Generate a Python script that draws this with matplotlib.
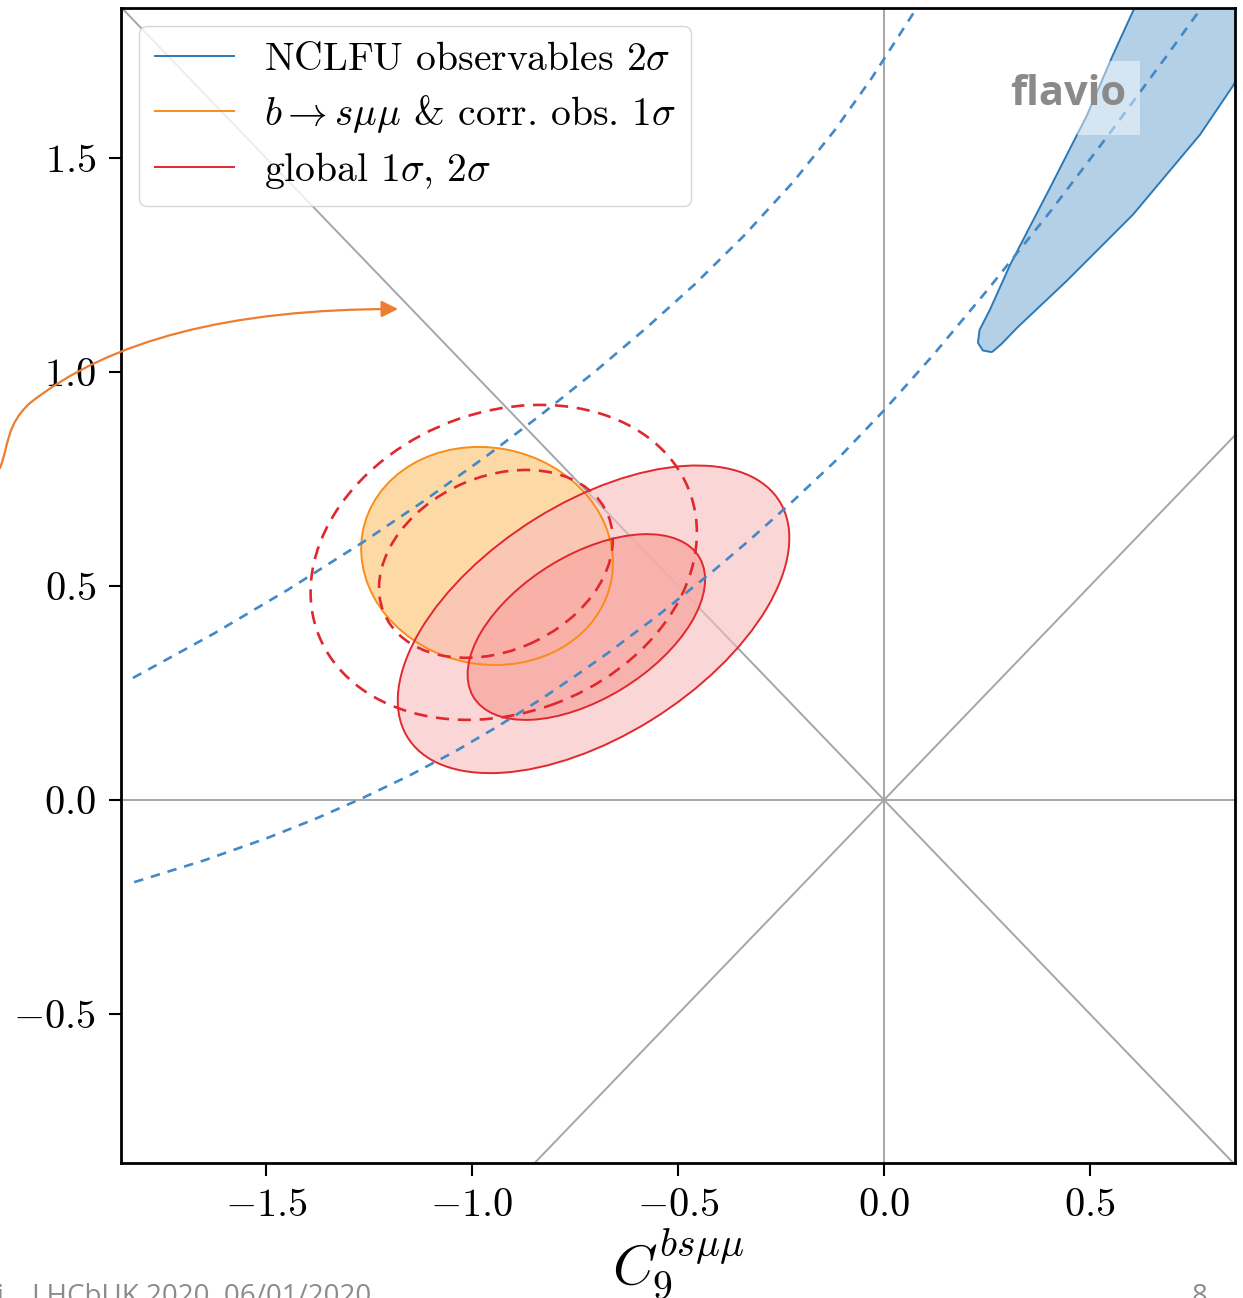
"""
C9 vs C10 (bs mu mu) fit contours, flavio style
"""
import numpy as np
import matplotlib
matplotlib.use('Agg')
import matplotlib.pyplot as plt
from matplotlib.patches import Ellipse, Polygon, Rectangle, FancyArrowPatch
from matplotlib.path import Path
from matplotlib.lines import Line2D

plt.rcParams['font.family'] = 'serif'
plt.rcParams['font.serif'] = ['cmr10']
plt.rcParams['mathtext.fontset'] = 'cm'
plt.rcParams['axes.formatter.use_mathtext'] = True

# ---- data ----
XLIM = (-1.852, 0.852)
YLIM = (-0.848, 1.85)
xticks = [-1.5, -1.0, -0.5, 0.0, 0.5]
yticks = [-0.5, 0.0, 0.5, 1.0, 1.5]

# NCLFU 2 sigma filled region (top right)
nclfu_x = [0.262, 0.240, 0.228, 0.232, 0.257, 0.306, 0.403, 0.493, 0.556, 0.646,
           0.913, 0.913, 0.847, 0.767, 0.604, 0.444, 0.323, 0.285]
nclfu_y = [1.046, 1.050, 1.068, 1.098, 1.145, 1.250, 1.430, 1.600, 1.741, 1.930,
           1.930, 1.776, 1.668, 1.554, 1.367, 1.213, 1.103, 1.065]

# NCLFU dashed band edges
dash_up_x = [-1.823, -1.626, -1.447, -1.265, -1.119, -0.964, -0.835, -0.70, -0.58,
             -0.46, -0.34, -0.22, -0.12, -0.03, 0.07, 0.085]
dash_up_y = [0.285, 0.389, 0.491, 0.602, 0.697, 0.804, 0.898, 1.002, 1.100,
             1.204, 1.318, 1.444, 1.564, 1.686, 1.836, 1.860]
dash_lo_x = [-1.82, -1.65, -1.50, -1.38, -1.269, -1.15, -1.04, -0.939, -0.83, -0.74,
             -0.672, -0.55, -0.422, -0.33, -0.228, -0.11, 0.0, 0.12, 0.25, 0.40,
             0.55, 0.68, 0.774]
dash_lo_y = [-0.192, -0.141, -0.090, -0.044, 0.003, 0.058, 0.114, 0.171, 0.237, 0.296,
             0.342, 0.430, 0.529, 0.604, 0.692, 0.799, 0.910, 1.040, 1.190, 1.370,
             1.560, 1.730, 1.855]

# ellipses: (centre x, centre y, width, height, angle in deg)
bsmm_1s = (-0.9635, 0.570, 0.614, 0.506, -9.8)
glob_1s = (-0.7225, 0.404, 0.638, 0.337, 30.3)
glob_2s = (-0.705, 0.422, 1.058, 0.548, 30.9)
glob_dash_in = (-0.942, 0.5515, 0.590, 0.408, 22.3)
glob_dash_out = (-0.923, 0.555, 0.961, 0.705, 18.8)

legend_labels = ['NCLFU observables $2\\sigma$',
                 '$b\\to s\\mu\\mu$ & corr. obs. $1\\sigma$',
                 'global $1\\sigma$, $2\\sigma$']

BLUE = '#2a7ab9'
BLUE_D = '#4189c7'
ORANGE = '#fb8c1a'
RED = '#e0282e'
GREY = '#a6a6a6'

W, H = 1243, 1298
fig = plt.figure(figsize=(W / 100, H / 100), dpi=100)
ax = fig.add_axes([121 / W, 1 - 1163 / H, 1114 / W, 1155 / H])

# reference lines
ax.axhline(0, color=GREY, lw=1.4, zorder=1)
ax.axvline(0, color=GREY, lw=1.4, zorder=1)
ax.axline((0, 0), slope=1, color=GREY, lw=1.4, zorder=1)
ax.axline((0, 0), slope=-1, color=GREY, lw=1.4, zorder=1)

# NCLFU region
ax.add_patch(Polygon(np.column_stack([nclfu_x, nclfu_y]), closed=True,
                     facecolor=BLUE, alpha=0.35, edgecolor='none', zorder=2))
ax.add_patch(Polygon(np.column_stack([nclfu_x, nclfu_y]), closed=True,
                     facecolor='none', edgecolor=BLUE, lw=1.4, zorder=2))


def ell(p, **kw):
    return Ellipse((p[0], p[1]), p[2], p[3], angle=p[4], **kw)


# fills: orange below, global on top
ax.add_patch(ell(bsmm_1s, facecolor='#fdd9a6', edgecolor='none', zorder=3))
ax.add_patch(ell(glob_2s, facecolor='#f7bcbc', alpha=0.6, edgecolor='none', zorder=3))
ax.add_patch(ell(glob_1s, facecolor='#f8aca6', alpha=0.85, edgecolor='none', zorder=3))
# edges
ax.add_patch(ell(bsmm_1s, facecolor='none', edgecolor=ORANGE, lw=1.4, zorder=4))
ax.add_patch(ell(glob_2s, facecolor='none', edgecolor=RED, lw=1.4, zorder=4))
ax.add_patch(ell(glob_1s, facecolor='none', edgecolor=RED, lw=1.4, zorder=4))
# dashed global contours
for p in (glob_dash_in, glob_dash_out):
    e = ell(p, facecolor='none', edgecolor=RED, lw=1.9, zorder=5)
    e.set_linestyle((0, (5, 3.3)))
    ax.add_patch(e)

ax.plot(dash_up_x, dash_up_y, color=BLUE_D, lw=1.9, dashes=(3.6, 3.0), zorder=6)
ax.plot(dash_lo_x, dash_lo_y, color=BLUE_D, lw=1.9, dashes=(3.6, 3.0), zorder=6)

# flavio watermark
ax.add_patch(Rectangle((0.858, 0.890), 0.0566, 0.064, transform=ax.transAxes,
                       facecolor='white', alpha=0.45, edgecolor='none', zorder=7))
ax.text(0.850, 0.925, 'flavio', transform=ax.transAxes, ha='center', va='center',
        family='Open Sans', weight='bold', fontsize=30, color='#8a8a8a', zorder=8)

ax.set_xlim(*XLIM)
ax.set_ylim(*YLIM)
ax.set_xticks(xticks)
ax.set_yticks(yticks)
ax.tick_params(labelsize=29, length=9, width=1.5, pad=9, direction='out')
for s in ax.spines.values():
    s.set_linewidth(2.0)
ax.set_xlabel('$C_9^{bs\\mu\\mu}$', fontsize=41, labelpad=2)

handles = [Line2D([], [], color=c, lw=1.4) for c in (BLUE, ORANGE, RED)]
ax.legend(handles, legend_labels, loc='upper left', fontsize=28.5,
          borderaxespad=0.45, framealpha=0.8, edgecolor='#cccccc',
          handlelength=2.0, handletextpad=0.75, labelspacing=0.38, borderpad=0.4)

# orange slide arrow (smooth curve, pixel positions)
arrow_px = [(0, 468), (9, 445), (6, 425), (30, 403),
            (110, 340), (230, 309), (398, 309)]
verts = [(x / W, 1 - y / H) for x, y in arrow_px]
codes = [Path.MOVETO] + [Path.CURVE4] * 6
fig.patches.append(FancyArrowPatch(path=Path(verts, codes), transform=fig.transFigure,
                                   arrowstyle='-|>,head_length=10,head_width=5',
                                   color='#ed7d31', lw=1.6, figure=fig))

# slide footer fragments
fig.text(12 / W, -0.010, 'ti,', family='Open Sans', fontsize=20, color='#8c8c8c',
         va='bottom', ha='right')
fig.text(32 / W, -0.010, 'LHCbUK 2020, 06/01/2020', family='Open Sans',
         fontsize=20, color='#8c8c8c', va='bottom', ha='left')
fig.text(1200 / W, -0.010, '8', family='Open Sans', fontsize=20, color='#8c8c8c',
         va='bottom', ha='center')

fig.savefig('out.png', dpi=100)
